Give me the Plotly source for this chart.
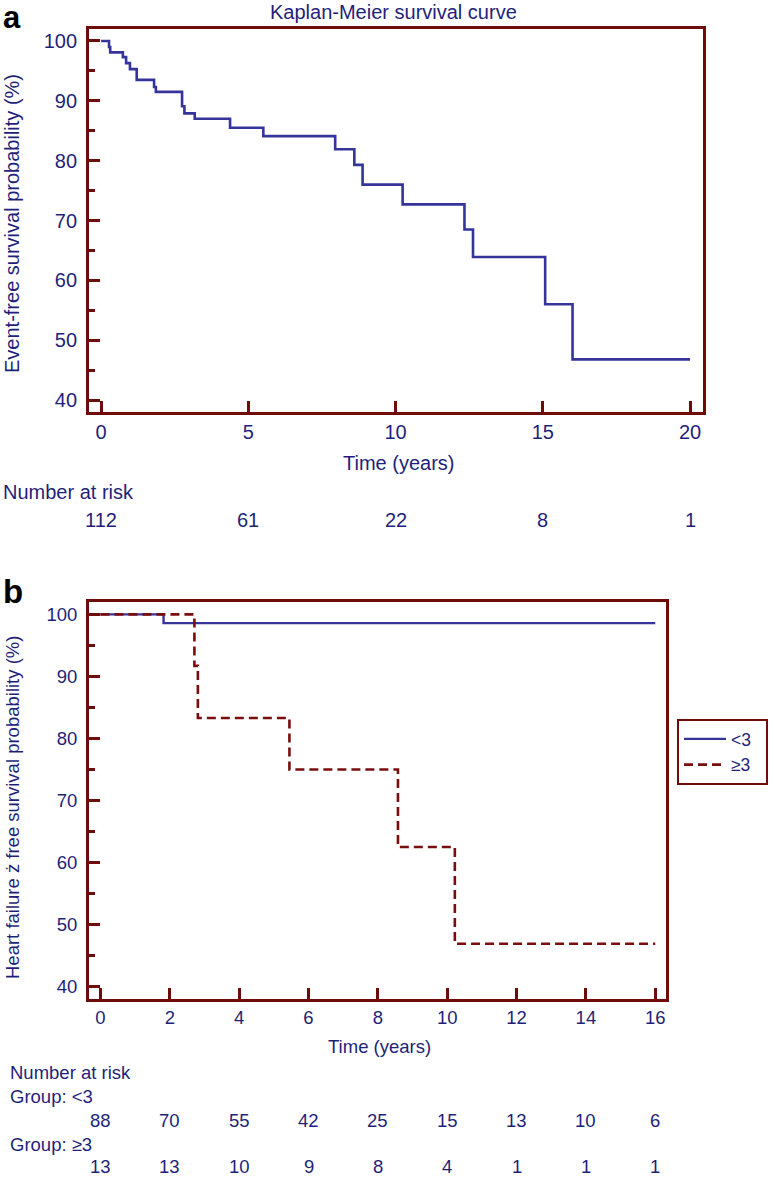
import plotly.graph_objects as go

# ---------------- Data ----------------
# Panel a: overall Kaplan-Meier (event-free survival, %)
km_time = [0, 0.27, 0.31, 0.74, 0.85, 0.98, 1.21, 1.80, 1.86, 2.75, 2.83, 3.18,
           4.38, 5.51, 7.95, 8.60, 8.88, 10.24, 12.34, 12.63, 15.08, 16.01, 20.0]
km_surv = [100, 99.0, 98.1, 97.3, 96.3, 95.3, 93.5, 92.3, 91.5, 89.1, 87.9, 87.0,
           85.5, 84.1, 81.9, 79.3, 76.0, 72.7, 68.5, 63.9, 56.0, 46.8, 46.8]

risk_a_times = [0, 5, 10, 15, 20]
risk_a = [112, 61, 22, 8, 1]

# Panel b: heart failure free survival by group
g1_name = "<3"
g1_time = [0, 1.82, 16.0]
g1_surv = [100, 98.6, 98.6]

g2_name = "≥3"
g2_time = [0, 2.71, 2.81, 5.45, 8.58, 10.22, 16.0]
g2_surv = [100, 91.7, 83.3, 75.0, 62.5, 46.9, 46.9]

risk_b_times = [0, 2, 4, 6, 8, 10, 12, 14, 16]
risk_b_lt3 = [88, 70, 55, 42, 25, 15, 13, 10, 6]
risk_b_ge3 = [13, 13, 10, 9, 8, 4, 1, 1, 1]

# ---------------- Styles ----------------
W, H = 774, 1178
NAVY = "#1f1f7a"
BLUE = "#34349a"
MAROON = "#6e0b0b"
RED = "#7a0e0e"
FONT = "Liberation Sans, Arial, sans-serif"
FA = 20      # panel a font size
FB = 18.5    # panel b font size
PAD = "\u00a0\u00a0"  # right padding inside legend box


def px_x(p):
    return p / W


def px_y(p):
    return 1 - p / H


fig = go.Figure()

fig.add_trace(go.Scatter(x=km_time, y=km_surv, mode="lines", line_shape="hv",
                         line=dict(color=BLUE, width=2.6), showlegend=False,
                         xaxis="x", yaxis="y"))
fig.add_trace(go.Scatter(x=g1_time, y=g1_surv, mode="lines", line_shape="hv",
                         name=g1_name + PAD, line=dict(color=BLUE, width=2.4),
                         xaxis="x2", yaxis="y2"))
fig.add_trace(go.Scatter(x=g2_time, y=g2_surv, mode="lines", line_shape="hv",
                         name=g2_name + PAD, line=dict(color=RED, width=2.6, dash="9px,5px"),
                         xaxis="x2", yaxis="y2"))

axis_common = dict(showline=True, mirror=True, linecolor=MAROON, linewidth=2.8,
                   ticks="inside", ticklen=11, tickwidth=2.6, tickcolor=MAROON,
                   showgrid=False, zeroline=False, fixedrange=True)

fig.update_layout(
    width=W, height=H,
    margin=dict(l=0, r=0, t=0, b=0),
    paper_bgcolor="white", plot_bgcolor="white",
    font=dict(family=FONT, color=NAVY),
    xaxis=dict(domain=[px_x(89), px_x(703)], range=[-0.41, 20.44],
               tick0=0, dtick=5, anchor="y",
               tickfont=dict(size=FA, color=NAVY), **axis_common),
    yaxis=dict(domain=[px_y(412), px_y(29)], range=[38, 102],
               tick0=0, dtick=10, anchor="x", ticklabelstandoff=5,
               minor=dict(ticks="inside", ticklen=6, tickwidth=2.6, tickcolor=MAROON, dtick=5),
               tickfont=dict(size=FA, color=NAVY), **axis_common),
    xaxis2=dict(domain=[px_x(89), px_x(666)], range=[-0.33, 16.31],
                tick0=0, dtick=2, anchor="y2",
                tickfont=dict(size=FB, color=NAVY), **axis_common),
    yaxis2=dict(domain=[px_y(999), px_y(602)], range=[38, 102],
                tick0=0, dtick=10, anchor="x2", ticklabelstandoff=5,
                minor=dict(ticks="inside", ticklen=6, tickwidth=2.6, tickcolor=MAROON, dtick=5),
                tickfont=dict(size=FB, color=NAVY), **axis_common),
    legend=dict(x=px_x(677), y=px_y(719), xanchor="left", yanchor="top",
                bordercolor=MAROON, borderwidth=2, bgcolor="white",
                font=dict(size=17.5, color=NAVY, family=FONT),
                tracegroupgap=0, itemwidth=42),
)

ann = []
# Panel labels
ann.append(dict(text="<b>a</b>", x=px_x(1), y=px_y(-2), xref="paper", yref="paper",
                xanchor="left", yanchor="top", showarrow=False,
                font=dict(size=31, color="black", family=FONT)))
ann.append(dict(text="<b>b</b>", x=px_x(1), y=px_y(571), xref="paper", yref="paper",
                xanchor="left", yanchor="top", showarrow=False,
                font=dict(size=33, color="black", family=FONT)))
# Titles
ann.append(dict(text="Kaplan-Meier survival curve", x=px_x(393), y=px_y(12),
                xref="paper", yref="paper", xanchor="center", yanchor="middle",
                showarrow=False, font=dict(size=FA, color=NAVY)))
ann.append(dict(text="Event-free survival probability (%)", x=px_x(12), y=px_y(224),
                xref="paper", yref="paper", xanchor="center", yanchor="middle",
                textangle=-90, showarrow=False, font=dict(size=FA, color=NAVY)))
ann.append(dict(text="Time (years)", x=px_x(398), y=px_y(463),
                xref="paper", yref="paper", xanchor="center", yanchor="middle",
                showarrow=False, font=dict(size=FA, color=NAVY)))
ann.append(dict(text="Heart failure ż free survival probability (%)", x=px_x(12), y=px_y(808),
                xref="paper", yref="paper", xanchor="center", yanchor="middle",
                textangle=-90, showarrow=False, font=dict(size=FB, color=NAVY)))
ann.append(dict(text="Time (years)", x=px_x(379), y=px_y(1046),
                xref="paper", yref="paper", xanchor="center", yanchor="middle",
                showarrow=False, font=dict(size=FB, color=NAVY)))

# Number at risk, panel a
ann.append(dict(text="Number at risk", x=px_x(1), y=px_y(492), xref="paper", yref="paper",
                xanchor="left", yanchor="middle", showarrow=False,
                font=dict(size=FA, color=NAVY)))
for t, n in zip(risk_a_times, risk_a):
    ann.append(dict(text=str(n), x=t, y=px_y(520), xref="x", yref="paper",
                    xanchor="center", yanchor="middle", showarrow=False,
                    font=dict(size=FA, color=NAVY)))

# Number at risk, panel b
ann.append(dict(text="Number at risk", x=px_x(8), y=px_y(1072), xref="paper", yref="paper",
                xanchor="left", yanchor="middle", showarrow=False,
                font=dict(size=FB, color=NAVY)))
ann.append(dict(text="Group: " + g1_name, x=px_x(8), y=px_y(1096), xref="paper", yref="paper",
                xanchor="left", yanchor="middle", showarrow=False,
                font=dict(size=FB, color=NAVY)))
for t, n in zip(risk_b_times, risk_b_lt3):
    ann.append(dict(text=str(n), x=t, y=px_y(1120), xref="x2", yref="paper",
                    xanchor="center", yanchor="middle", showarrow=False,
                    font=dict(size=FB, color=NAVY)))
ann.append(dict(text="Group: " + g2_name, x=px_x(8), y=px_y(1144), xref="paper", yref="paper",
                xanchor="left", yanchor="middle", showarrow=False,
                font=dict(size=FB, color=NAVY)))
for t, n in zip(risk_b_times, risk_b_ge3):
    ann.append(dict(text=str(n), x=t, y=px_y(1166), xref="x2", yref="paper",
                    xanchor="center", yanchor="middle", showarrow=False,
                    font=dict(size=FB, color=NAVY)))

fig.update_layout(annotations=ann)

fig.write_html(
    "out.html",
    config={"displayModeBar": False},
    post_script="document.body.style.margin='0';document.body.style.overflow='hidden';",
)
